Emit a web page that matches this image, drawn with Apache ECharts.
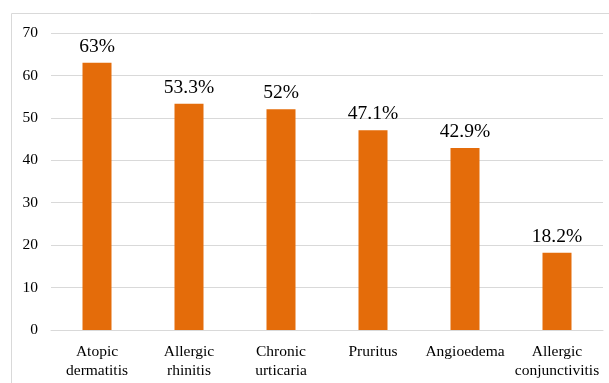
<!DOCTYPE html>
<html>
<head>
<meta charset="utf-8">
<script src="https://cdn.jsdelivr.net/npm/echarts@6/dist/echarts.min.js"></script>
<style>
    html, body { margin: 0; padding: 0; background: #fff; }
    #chart { width: 609px; height: 383px; }
</style>
</head>
<body>
<div id="chart"></div>
<script>
// 数据
const categories = ['Atopic\ndermatitis', 'Allergic\nrhinitis', 'Chronic\nurticaria', 'Pruritus', 'Angioedema', 'Allergic\nconjunctivitis'];
const values = [63, 53.3, 52, 47.1, 42.9, 18.2];
const valueLabels = ['63%', '53.3%', '52%', '47.1%', '42.9%', '18.2%'];

const fontFamily = '"Liberation Serif", "DejaVu Serif", serif';

const myChart = echarts.init(document.getElementById('chart'));
const option = {
    animation: false,
    textStyle: { fontFamily: fontFamily },
    graphic: [{
        type: 'rect',
        shape: { x: 11.5, y: 13.5, width: 620, height: 400 },
        style: { fill: 'none', stroke: '#d9d9d9', lineWidth: 1 },
        silent: true
    }],
    grid: {
        left: 51,
        right: 6,
        top: 33,
        bottom: 53
    },
    xAxis: {
        type: 'category',
        data: categories,
        axisLine: { lineStyle: { color: '#d9d9d9' } },
        axisTick: { show: false },
        axisLabel: {
            interval: 0,
            color: '#000',
            fontSize: 15.5,
            lineHeight: 19,
            margin: 12,
            fontFamily: fontFamily
        }
    },
    yAxis: {
        type: 'value',
        min: 0,
        max: 70,
        interval: 10,
        axisLine: { show: false },
        axisTick: { show: false },
        splitLine: { lineStyle: { color: '#d9d9d9' } },
        axisLabel: {
            color: '#000',
            fontSize: 15.5,
            margin: 13,
            fontFamily: fontFamily
        }
    },
    series: [{
        type: 'bar',
        data: values,
        barWidth: 29,
        itemStyle: { color: '#E46C0A' },
        label: {
            show: true,
            position: 'top',
            distance: 6,
            color: '#000',
            fontSize: 19.5,
            fontFamily: fontFamily,
            formatter: (p) => valueLabels[p.dataIndex]
        }
    }]
};
myChart.setOption(option);
window.addEventListener('resize', () => {
    myChart.resize();
});
</script>
</body>
</html>
